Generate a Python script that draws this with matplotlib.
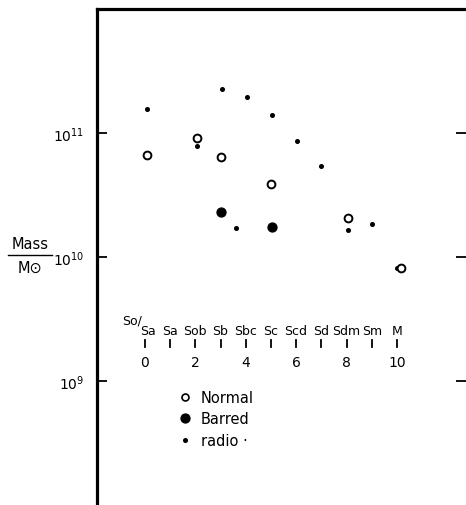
import numpy as np
from matplotlib import pyplot as plt
from matplotlib.lines import Line2D
from matplotlib.ticker import FixedLocator, NullLocator, FixedFormatter

# morphological type index (0 = S0/Sa ... 10 = M)
type_idx = np.arange(0, 11)
type_names = ["Sa", "Sa", "Sob", "Sb", "Sbc", "Sc", "Scd", "Sd", "Sdm", "Sm", "M"]
type_numbers = [0, 2, 4, 6, 8, 10]

# normal spirals (open circles)
normal_x = [0.1, 2.05, 3.0, 5.0, 8.05, 10.15]
normal_mass = [6.6e10, 9.1e10, 6.4e10, 3.9e10, 2.05e10, 8.1e9]

# barred spirals (filled circles)
barred_x = [3.0, 5.05]
barred_mass = [2.3e10, 1.75e10]

# radio masses (small dots)
radio_x = [0.1, 2.05, 3.05, 4.05, 5.05, 6.05, 7.0, 3.6, 8.05, 9.0, 10.0]
radio_mass = [1.56e11, 7.9e10, 2.25e11, 1.95e11, 1.4e11, 8.6e10, 5.4e10,
              1.7e10, 1.66e10, 1.86e10, 8.1e9]

ytick_vals = [1e9, 1e10, 1e11]
ytick_labels = ["$10^9$", "$10^{10}$", "$10^{11}$"]

plt.rcParams['font.family'] = ['DejaVu Sans']
plt.rcParams['mathtext.fontset'] = 'dejavusans'

fig = plt.figure(figsize=(4.66, 5.06), dpi=100)
ax = fig.add_axes([97 / 466, 0.0, 1 - 97 / 466, 1 - 10 / 506])

ax.set_yscale('log')
ax.set_ylim(1e8, 1e12)
ax.set_xlim(-1.9, 12.74)

ax.plot(radio_x, radio_mass, 'o', color='black', ms=2.6, ls='none')
ax.plot(normal_x, normal_mass, 'o', mfc='white', mec='black', mew=1.4, ms=5.6, ls='none')
ax.plot(barred_x, barred_mass, 'o', color='black', ms=6.4, ls='none')

# axis styling
for side in ['left', 'top']:
    ax.spines[side].set_linewidth(2.3)
ax.spines['right'].set_visible(False)
ax.spines['bottom'].set_visible(False)

ax.xaxis.set_major_locator(NullLocator())
ax.yaxis.set_major_locator(FixedLocator(ytick_vals))
ax.yaxis.set_major_formatter(FixedFormatter(ytick_labels))
ax.yaxis.set_minor_locator(NullLocator())
ax.tick_params(axis='y', direction='in', length=7, width=1.3, pad=9,
               right=True, labelsize=10)

# type scale drawn inside the plot
tr = ax.get_xaxis_transform()
for i, name in zip(type_idx, type_names):
    xi = i + 0.12 if i == 0 else i
    ax.text(xi, 0.351, name, transform=tr, ha='center', va='center', fontsize=9)
    ax.plot([i, i], [0.318, 0.333], transform=tr, color='black', lw=1.3)
ax.text(-0.5, 0.372, "So/", transform=tr, ha='center', va='center', fontsize=9)
for n in type_numbers:
    ax.text(n, 0.289, str(n), transform=tr, ha='center', va='center', fontsize=10)

# legend
handles = [
    Line2D([], [], marker='o', ls='none', mfc='white', mec='black', mew=1.2, ms=5),
    Line2D([], [], marker='o', ls='none', color='black', ms=6.4),
    Line2D([], [], marker='o', ls='none', color='black', ms=2.6),
]
ax.legend(handles, ["Normal", "Barred", "radio ·"], loc='upper left',
          bbox_to_anchor=(0.186, 0.259), frameon=False, fontsize=10.5,
          handlelength=0.8, handletextpad=0.7, labelspacing=0.45)

# y label as a fraction
fig.text(30 / 466, 1 - 245 / 506, "Mass", ha='center', va='center', fontsize=10.5)
fig.add_artist(Line2D([8 / 466, 52 / 466], [1 - 256 / 506, 1 - 256 / 506],
                      color='black', lw=1.0))
fig.text(30 / 466, 1 - 268 / 506, "M\u2299", ha='center', va='center', fontsize=10.5)

fig.savefig('out.png', dpi=100)
